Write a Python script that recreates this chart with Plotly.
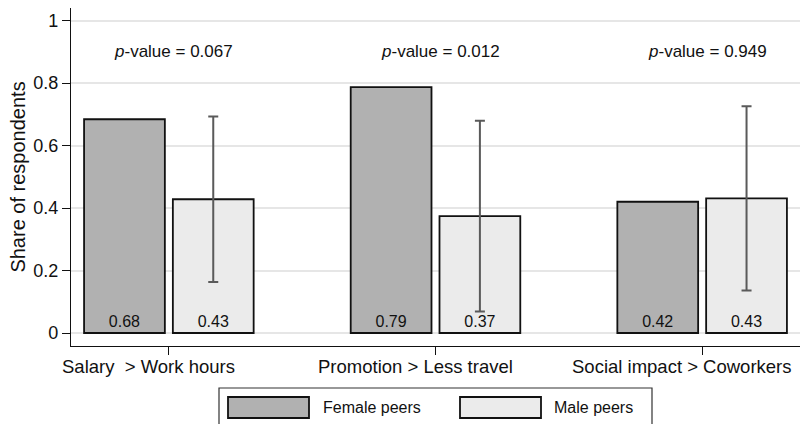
import plotly.graph_objects as go

# ---- data ----
categories = ["Salary  > Work hours", "Promotion > Less travel", "Social impact > Coworkers"]
female_share = [0.684, 0.787, 0.420]
male_share = [0.428, 0.374, 0.431]
male_err = [0.265, 0.305, 0.295]
p_values = ["0.067", "0.012", "0.949"]
series_names = ["Female peers", "Male peers"]
y_ticks = [0, 0.2, 0.4, 0.6, 0.8, 1]
y_ticktext = ["0", "0.2", "0.4", "0.6", "0.8", "1"]

# ---- style / layout constants ----
W, H = 802, 424
ML, MR, MT, MB = 71, 2, 8, 78
FONT = "Liberation Sans, Arial, Helvetica, sans-serif"
FEMALE_COLOR = "#b1b1b1"
MALE_COLOR = "#ebebeb"
BAR_W = 0.303
OFF_F = -0.318
OFF_M = 0.015

fig = go.Figure()
fig.add_trace(go.Bar(
    x=categories, y=female_share, name=series_names[0],
    width=BAR_W, offset=OFF_F,
    marker=dict(color=FEMALE_COLOR, line=dict(color="#111111", width=1.8)),
    texttemplate="%{y:.2f}", textposition="inside", insidetextanchor="start",
    textangle=0, textfont=dict(size=16, color="#111111", family=FONT),
    showlegend=False, hoverinfo="skip",
))
fig.add_trace(go.Bar(
    x=categories, y=male_share, name=series_names[1],
    width=BAR_W, offset=OFF_M,
    marker=dict(color=MALE_COLOR, line=dict(color="#111111", width=1.8)),
    error_y=dict(type="data", array=male_err, symmetric=True,
                 color="#5a5a5a", thickness=2, width=5),
    texttemplate="%{y:.2f}", textposition="inside", insidetextanchor="start",
    textangle=0, textfont=dict(size=16, color="#111111", family=FONT),
    showlegend=False, hoverinfo="skip",
))

annotations = []
# p-value labels
for cat, p in zip(categories, p_values):
    annotations.append(dict(
        x=cat, y=0.9, xref="x", yref="y", text=f"<i>p</i>-value = {p}",
        showarrow=False, xshift=5, font=dict(size=17, color="#111111", family=FONT),
    ))
# category labels (shifted like the reference)
for cat in categories:
    annotations.append(dict(
        x=cat, y=0, xref="x", yref="paper", yanchor="top",
        text=cat.replace(" ", "\u00a0"), showarrow=False, xshift=-20, yshift=-8,
        font=dict(size=18.5, color="#111111", family=FONT),
    ))

# custom legend (wide swatches, boxed)
pw, ph = W - ML - MR, H - MT - MB
def px_x(px):
    return (px - ML) / pw
def px_y(py):
    return (H - MB - py) / ph

shapes = [
    dict(type="rect", xref="paper", yref="paper",
         x0=px_x(219), x1=px_x(652), y0=px_y(426), y1=px_y(388),
         line=dict(color="#333333", width=1.2), fillcolor="white", layer="above"),
]
legend_items = [(series_names[0], FEMALE_COLOR, 228, 321), (series_names[1], MALE_COLOR, 460, 552)]
for name, col, sx, tx in legend_items:
    shapes.append(dict(type="rect", xref="paper", yref="paper",
                       x0=px_x(sx), x1=px_x(sx + 81), y0=px_y(418), y1=px_y(397),
                       line=dict(color="#111111", width=1.8), fillcolor=col, layer="above"))
    annotations.append(dict(x=px_x(tx), y=px_y(407.5), xref="paper", yref="paper",
                            xanchor="left", yanchor="middle", text=name, showarrow=False,
                            font=dict(size=16, color="#111111", family=FONT)))

fig.update_layout(
    width=W, height=H,
    margin=dict(l=ML, r=MR, t=MT, b=MB, pad=0, autoexpand=False),
    paper_bgcolor="white", plot_bgcolor="white",
    barmode="overlay",
    font=dict(family=FONT, color="#111111"),
    annotations=annotations, shapes=shapes,
    showlegend=False,
)
fig.update_xaxes(
    type="category", range=[-0.367, 2.367], automargin=False,
    showticklabels=False, ticks="outside", ticklen=8, tickwidth=1.2, tickcolor="#111111",
    showline=True, linecolor="#111111", linewidth=1.2, showgrid=False, zeroline=False,
)
fig.update_yaxes(
    range=[-0.0416, 1.04], tickvals=y_ticks, ticktext=y_ticktext, automargin=False,
    ticks="outside", ticklen=8, tickwidth=1.2, tickcolor="#111111",
    tickfont=dict(size=18, color="#111111", family=FONT),
    showline=True, linecolor="#111111", linewidth=1.2,
    showgrid=True, gridcolor="#e6e6e6", gridwidth=1.5, zeroline=False,
    title=dict(text="Share of respondents", font=dict(size=20, color="#111111", family=FONT), standoff=2),
)

fig.write_html(
    "out.html",
    config={"displayModeBar": False},
    post_script="document.body.style.margin='0px';document.body.style.padding='0px';",
)
